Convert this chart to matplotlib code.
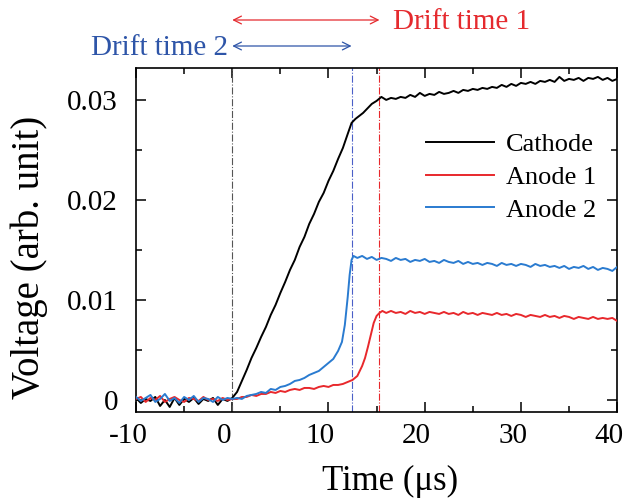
import numpy as np
import matplotlib
matplotlib.use("Agg")
import matplotlib.pyplot as plt
import matplotlib.transforms as mtransforms

# ---------------- data ----------------
cathode_t = [-10, -9.5, -9, -8.5, -8, -7.5, -7, -6.5, -6, -5.5, -5, -4.5, -4, -3.5, -3, -2.5, -2, -1.5, -1, -0.5, 0,
             0.5, 1, 1.5, 2, 2.5, 3, 3.5, 4, 4.5, 5, 5.5, 6, 6.5, 7, 7.5, 8, 8.5, 9, 9.5, 10, 10.5, 11, 11.5, 12,
             12.4, 12.8, 13.2, 13.6, 14, 14.5, 15, 15.5,
             16, 16.5, 17, 17.5, 18, 18.5, 19, 19.5, 20, 20.5, 21, 21.5, 22, 22.5, 23, 23.5, 24, 24.5, 25, 25.5,
             26, 26.5, 27, 27.5, 28, 28.5, 29, 29.5, 30, 30.5, 31, 31.5, 32, 32.5, 33, 33.5, 34, 34.5, 35, 35.5,
             36, 36.5, 37, 37.5, 38, 38.5, 39, 39.5, 40]
cathode_v = [0.0002, -0.0003, 0.0001, -0.0001, 0.0003, -0.0006, 0.0000, -0.0007, 0.0002, -0.0005, 0.0001, -0.0002,
             0.0002, -0.0004, 0.0001, -0.0001, 0.0002, -0.0005, 0.0001, -0.0001, 0.0002,
             0.0008, 0.0019, 0.0030, 0.0042, 0.0052, 0.0063, 0.0073, 0.0085, 0.0095, 0.0107, 0.0118, 0.0130,
             0.0140, 0.0153, 0.0163, 0.0176, 0.0186, 0.0198, 0.0207, 0.0219, 0.0229, 0.0241, 0.0252, 0.0266,
             0.0277, 0.0281, 0.0284, 0.0287, 0.0291, 0.0296, 0.0299, 0.0303,
             0.0300, 0.0302, 0.0301, 0.0303, 0.0302, 0.0305, 0.0303, 0.0307, 0.0304, 0.0306, 0.0305, 0.0308,
             0.0306, 0.0307, 0.0309, 0.0307, 0.0310, 0.0309, 0.0311, 0.0310, 0.0312, 0.0311, 0.0313, 0.0312,
             0.0315, 0.0313, 0.0316, 0.0314, 0.0317, 0.0316, 0.0318, 0.0316, 0.0319, 0.0318, 0.0320, 0.0318,
             0.0323, 0.0319, 0.0321, 0.0320, 0.0322, 0.0319, 0.0322, 0.0321, 0.0323, 0.0320, 0.0322, 0.0319,
             0.0321]

anode1_t = [-10, -9.5, -9, -8.5, -8, -7.5, -7, -6.5, -6, -5.5, -5, -4.5, -4, -3.5, -3, -2.5, -2, -1.5, -1, -0.5, 0,
            0.5, 1, 1.5, 2, 2.5, 3, 3.5, 4, 4.5, 5, 5.5, 6, 6.5, 7, 7.5, 8, 8.5, 9, 9.5, 10, 10.5, 11, 11.5, 12,
            12.5, 13, 13.5, 13.8, 14.1, 14.4, 14.7, 15.0, 15.3, 15.6,
            16, 16.5, 17, 17.5, 18, 18.5, 19, 19.5, 20, 20.5, 21, 21.5, 22, 22.5, 23, 23.5, 24, 24.5, 25, 25.5,
            26, 26.5, 27, 27.5, 28, 28.5, 29, 29.5, 30, 30.5, 31, 31.5, 32, 32.5, 33, 33.5, 34, 34.5, 35, 35.5,
            36, 36.5, 37, 37.5, 38, 38.5, 39, 39.5, 40]
anode1_v = [0.0001, 0.0003, -0.0002, 0.0002, 0.0000, 0.0004, -0.0002, 0.0001, 0.0003, 0.0000, -0.0002, 0.0002,
            0.0001, -0.0001, 0.0003, 0.0000, 0.0001, -0.0001, 0.0002, 0.0000, 0.0001,
            0.0001, 0.0003, 0.0003, 0.0005, 0.0004, 0.0006, 0.0006, 0.0008, 0.0007, 0.0009, 0.0008, 0.0010,
            0.0011, 0.0010, 0.0012, 0.0012, 0.0011, 0.0013, 0.0014, 0.0013, 0.0015, 0.0015, 0.0016, 0.0018,
            0.0020, 0.0024, 0.0034, 0.0042, 0.0053, 0.0065, 0.0077, 0.0084, 0.0087, 0.0089,
            0.0087, 0.0089, 0.0087, 0.0088, 0.0086, 0.0089, 0.0087, 0.0088, 0.0086, 0.0088, 0.0087, 0.0086,
            0.0088, 0.0086, 0.0087, 0.0085, 0.0088, 0.0086, 0.0087, 0.0085, 0.0087, 0.0086, 0.0085, 0.0087,
            0.0085, 0.0086, 0.0084, 0.0086, 0.0085, 0.0083, 0.0085, 0.0084, 0.0083, 0.0085, 0.0083, 0.0084,
            0.0082, 0.0084, 0.0083, 0.0081, 0.0083, 0.0082, 0.0081, 0.0083, 0.0081, 0.0082, 0.0081, 0.0082,
            0.0079]

anode2_t = [-10, -9.5, -9, -8.5, -8, -7.5, -7, -6.5, -6, -5.5, -5, -4.5, -4, -3.5, -3, -2.5, -2, -1.5, -1, -0.5, 0,
            0.5, 1, 1.5, 2, 2.5, 3, 3.5, 4, 4.5, 5, 5.5, 6, 6.5, 7, 7.5, 8, 8.5, 9, 9.5, 10, 10.5, 11, 11.4,
            11.7, 12.0, 12.2, 12.4, 12.6, 13,
            13.5, 14, 14.5, 15, 15.5, 16, 16.5, 17, 17.5, 18, 18.5, 19, 19.5, 20, 20.5, 21, 21.5, 22, 22.5, 23,
            23.5, 24, 24.5, 25, 25.5, 26, 26.5, 27, 27.5, 28, 28.5, 29, 29.5, 30, 30.5, 31, 31.5, 32, 32.5, 33,
            33.5, 34, 34.5, 35, 35.5, 36, 36.5, 37, 37.5, 38, 38.5, 39, 39.5, 40]
anode2_v = [0.0003, -0.0001, 0.0002, 0.0005, -0.0002, 0.0001, 0.0006, -0.0001, 0.0002, -0.0003, 0.0003, 0.0000,
            0.0004, -0.0002, 0.0002, 0.0001, -0.0002, 0.0003, 0.0000, 0.0002, 0.0001,
            0.0002, 0.0001, 0.0004, 0.0005, 0.0006, 0.0008, 0.0007, 0.0011, 0.0010, 0.0013, 0.0014, 0.0016,
            0.0019, 0.0020, 0.0022, 0.0025, 0.0027, 0.0029, 0.0033, 0.0037, 0.0041, 0.0049, 0.0058,
            0.0075, 0.0103, 0.0125, 0.0140, 0.0144, 0.0142,
            0.0144, 0.0141, 0.0143, 0.0140, 0.0142, 0.0141, 0.0139, 0.0142, 0.0140, 0.0141, 0.0138, 0.0140,
            0.0139, 0.0141, 0.0138, 0.0139, 0.0137, 0.0140, 0.0138, 0.0137, 0.0139, 0.0136, 0.0138, 0.0136,
            0.0137, 0.0135, 0.0137, 0.0136, 0.0134, 0.0137, 0.0135, 0.0136, 0.0134, 0.0136, 0.0135, 0.0133,
            0.0136, 0.0134, 0.0135, 0.0133, 0.0134, 0.0132, 0.0134, 0.0131, 0.0133, 0.0132, 0.0134, 0.0131,
            0.0133, 0.0130, 0.0132, 0.0131, 0.0129, 0.0133]

series_labels = ["Cathode", "Anode 1", "Anode 2"]
marker_times = [0.0, 15.3, 12.4]          # vertical dash-dot markers (start, anode1, anode2)
xticks = [-10, 0, 10, 20, 30, 40]
yticks = [0, 0.01, 0.02, 0.03]
ytick_labels = ["0", "0.01", "0.02", "0.03"]

# ---------------- style ----------------
plt.rcParams['font.family'] = ['Liberation Serif', 'DejaVu Serif']

BLACK = "#000000"
RED = "#e8282c"
BLUE = "#2a7bd0"
TXT_RED = "#e52a2e"
TXT_BLUE = "#2e55a8"

fig = plt.figure(figsize=(6.24, 5.03), dpi=100)
ax = fig.add_axes([0.218, 0.181, 0.771, 0.684])

ax.plot(cathode_t, cathode_v, color=BLACK, lw=1.4, label=series_labels[0], zorder=3)
ax.plot(anode1_t, anode1_v, color=RED, lw=1.4, label=series_labels[1], zorder=4)
ax.plot(anode2_t, anode2_v, color=BLUE, lw=1.4, label=series_labels[2], zorder=5)

ax.axvline(marker_times[0], color="#555555", lw=0.8, ls="-.", zorder=2)
ax.axvline(marker_times[1], color=RED, lw=0.8, ls="-.", zorder=2)
ax.axvline(marker_times[2], color="#4a5fc8", lw=0.8, ls="-.", zorder=2)

ax.set_xlim(-10, 40)
ax.set_ylim(-0.0012, 0.0332)
ax.set_xticks(xticks)
ax.set_xticklabels([str(v) for v in xticks])
ax.set_yticks(yticks)
ax.set_yticklabels(ytick_labels)
ax.set_xticks(np.arange(-10, 41, 5), minor=True)
ax.set_yticks(np.arange(0, 0.0331, 0.005), minor=True)
ax.tick_params(which='both', direction='in', top=True, right=True, width=1.1, labelsize=21)
ax.tick_params(which='major', length=7)
ax.tick_params(which='minor', length=4)
ax.tick_params(axis='x', which='major', pad=8)
ax.tick_params(axis='y', which='major', pad=13)
for s in ax.spines.values():
    s.set_linewidth(1.2)

# shift x tick labels slightly left, like the reference
shift = mtransforms.ScaledTranslation(-8 / 100, 0, fig.dpi_scale_trans)
for lab in ax.get_xticklabels():
    lab.set_transform(lab.get_transform() + shift)

ax.set_xlabel("Time (μs)", fontsize=25)
ax.xaxis.set_label_coords((389.5 - 136) / 481, -(482 - 412) / 344, transform=ax.transAxes)
ax.xaxis.label.set_va('center')
ax.set_ylabel("Voltage (arb. unit)", fontsize=28)
ax.yaxis.set_label_coords(-(136 - 29) / 481, (412 - 257) / 344, transform=ax.transAxes)
ax.yaxis.label.set_va('center')

leg = ax.legend(loc='upper right', bbox_to_anchor=(0.995, 0.865), frameon=False, fontsize=19,
                handlelength=2.6, handletextpad=0.45, labelspacing=0.35, borderaxespad=0.3)

# drift time arrows above the axes
trans = mtransforms.blended_transform_factory(ax.transData, fig.transFigure)
y1 = 1 - 20 / 503
y2 = 1 - 46 / 503
ax.annotate("", xy=(marker_times[1], y1), xytext=(marker_times[0], y1), xycoords=trans, textcoords=trans,
            arrowprops=dict(arrowstyle="<->", color=TXT_RED, lw=0.9, shrinkA=0, shrinkB=0,
                            mutation_scale=14), annotation_clip=False)
ax.annotate("", xy=(marker_times[2], y2), xytext=(marker_times[0], y2), xycoords=trans, textcoords=trans,
            arrowprops=dict(arrowstyle="<->", color=TXT_BLUE, lw=0.9, shrinkA=0, shrinkB=0,
                            mutation_scale=14), annotation_clip=False)
fig.text(393 / 624, y1 - 0.004, "Drift time 1", color=TXT_RED, fontsize=21, ha='left', va='center')
fig.text(228 / 624, y2 - 0.004, "Drift time 2", color=TXT_BLUE, fontsize=21, ha='right', va='center')

fig.savefig("out.png", dpi=100)
